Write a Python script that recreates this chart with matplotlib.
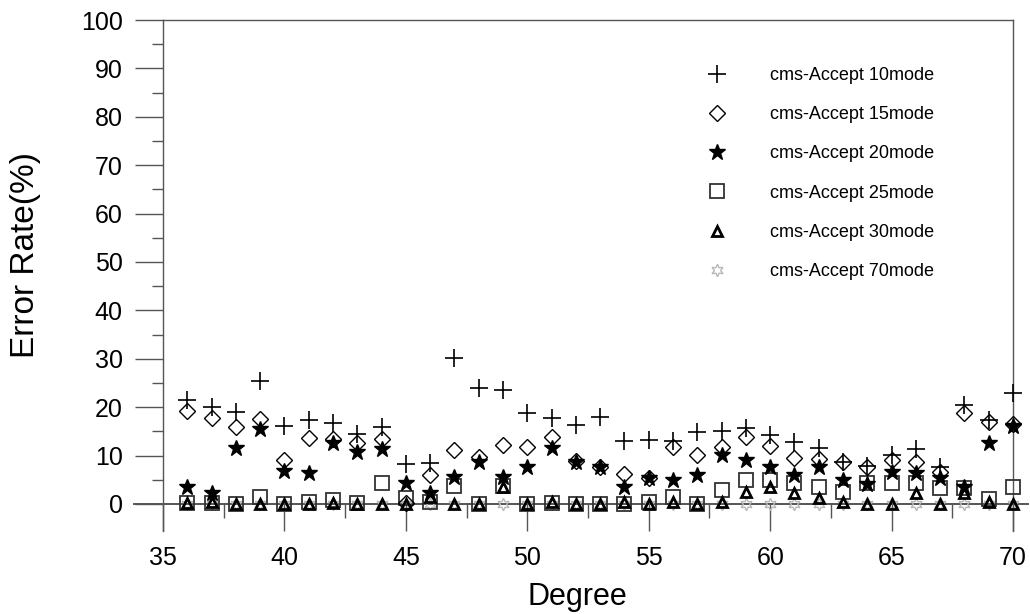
import matplotlib.pyplot as plt
import numpy as np

plt.rcParams['font.family'] = ['Liberation Sans', 'DejaVu Sans']

degree = np.arange(36, 71)

mode10 = [21.5, 20.1, 19.1, 25.4, 16.1, 17.4, 16.8, 14.5, 16.0, 8.3,
          8.4, 30.1, 23.9, 23.6, 18.9, 17.7, 16.3, 18.0, 13.1, 13.2,
          13.1, 14.9, 15.1, 15.8, 14.3, 12.9, 11.5, 8.7, 7.9, 10.1,
          11.3, 7.7, 20.4, 17.3, 22.9]
mode15 = [19.2, 17.8, 16.0, 17.5, 9.1, 13.7, 13.4, 12.5, 13.4, 0.3,
          5.9, 11.2, 9.8, 12.2, 11.8, 13.9, 8.9, 7.7, 6.2, 5.3,
          11.8, 10.1, 11.8, 13.8, 12.0, 9.6, 9.2, 8.7, 7.7, 9.1,
          8.7, 6.7, 18.9, 17.0, 16.6]
mode20 = [3.6, 2.3, 11.5, 15.4, 6.9, 6.3, 12.5, 10.8, 11.3, 4.3,
          2.3, 5.6, 8.6, 5.6, 7.6, 11.5, 8.7, 7.6, 3.6, 5.3,
          5.0, 6.0, 10.1, 9.1, 7.6, 6.0, 7.7, 5.0, 4.2, 6.7,
          6.5, 5.3, 3.6, 12.5, 16.1]
mode25 = [0.3, 0.3, 0.0, 1.5, 0.0, 0.5, 0.8, 0.3, 4.4, 1.2,
          0.5, 3.7, 0.0, 3.7, 0.0, 0.3, 0.0, 0.0, 0.0, 0.5,
          1.5, 0.0, 2.9, 5.0, 5.0, 4.3, 3.6, 2.5, 4.3, 4.3,
          4.3, 3.2, 3.3, 1.0, 3.6]
mode30 = [0.3, 0.5, 0.0, 0.0, 0.0, 0.0, 0.3, 0.0, 0.0, 0.0,
          1.5, 0.0, 0.0, 3.5, 0.0, 0.5, 0.0, 0.0, 0.5, 0.0,
          0.5, 0.0, 0.5, 2.5, 3.6, 2.2, 1.2, 0.5, 0.0, 0.0,
          2.2, 0.0, 2.2, 0.5, 0.0]
mode70 = [0.0] * 35

labels = ['cms-Accept 10mode', 'cms-Accept 15mode', 'cms-Accept 20mode',
          'cms-Accept 25mode', 'cms-Accept 30mode', 'cms-Accept 70mode']

fig = plt.figure(figsize=(10.30, 6.14), dpi=100)
ax = fig.add_axes([0.130, 0.1319, 0.8677, 0.8355])

ax.plot(degree, mode70, ls='none', marker=(6, 1, 0), ms=9, mfc='none',
        mec='#b8b8b8', mew=1.0, label=labels[5], zorder=3)
ax.plot(degree, mode25, ls='none', marker='s', ms=10, mfc='none',
        mec='#333333', mew=1.3, label=labels[3], zorder=4)
ax.plot(degree, mode30, ls='none', marker='^', ms=6.5, mfc='none',
        mec='black', mew=2.0, label=labels[4], zorder=5)
ax.plot(degree, mode15, ls='none', marker='D', ms=8, mfc='none',
        mec='black', mew=1.0, label=labels[1], zorder=6)
ax.plot(degree, mode20, ls='none', marker='*', ms=12, mfc='black',
        mec='black', label=labels[2], zorder=7)
ax.plot(degree, mode10, ls='none', marker='+', ms=13, mec='black',
        mew=1.2, label=labels[0], zorder=8)

ax.set_xlim(33.8, 70.6)
ax.set_ylim(-6, 100)

axis_col = '#555555'
for side in ['left', 'right', 'top', 'bottom']:
    ax.spines[side].set_color(axis_col)
    ax.spines[side].set_linewidth(1.0)
ax.spines['left'].set_position(('data', 35))
ax.spines['left'].set_bounds(-5.6, 100)
ax.spines['right'].set_position(('data', 70))
ax.spines['right'].set_bounds(-5.6, 100)
ax.spines['bottom'].set_position(('data', 0))
ax.spines['bottom'].set_bounds(33.8, 70.6)
ax.spines['bottom'].set_linewidth(1.4)
ax.spines['top'].set_position(('data', 100))
ax.spines['top'].set_bounds(35, 70)

ax.set_xticks(np.arange(35, 71, 5))
ax.set_xticks(np.arange(37.5, 70, 5), minor=True)
ax.set_yticks(np.arange(0, 101, 10))
ax.set_yticks(np.arange(5, 100, 10), minor=True)

ax.tick_params(axis='x', which='major', direction='out', length=19.5,
               width=1.0, color=axis_col, labelsize=18, pad=11)
ax.tick_params(axis='x', which='minor', direction='out', length=10,
               width=1.0, color=axis_col)
ax.tick_params(axis='y', which='major', direction='out', length=20,
               width=1.0, color=axis_col, labelsize=18, pad=9)
ax.tick_params(axis='y', which='minor', direction='out', length=8,
               width=1.0, color=axis_col)
ax.tick_params(top=False, right=False, which='both')

ax.set_xlabel('Degree', fontsize=22)
ax.xaxis.set_label_coords(0.496, -0.125)
ax.xaxis.label.set_verticalalignment('center')
ax.set_ylabel('Error Rate(%)', fontsize=24)
ax.yaxis.set_label_coords(-0.121, 0.542)
ax.yaxis.label.set_verticalalignment('center')
ax.yaxis.label.set_horizontalalignment('center')

handles, labs = ax.get_legend_handles_labels()
order = [labs.index(l) for l in labels]
ax.legend([handles[i] for i in order], [labs[i] for i in order],
          loc='upper left', bbox_to_anchor=(0.624, 0.94), frameon=False,
          fontsize=13, numpoints=1, labelspacing=1.23, handletextpad=2.45,
          handlelength=1.0)

fig.savefig('out.png', dpi=100)
